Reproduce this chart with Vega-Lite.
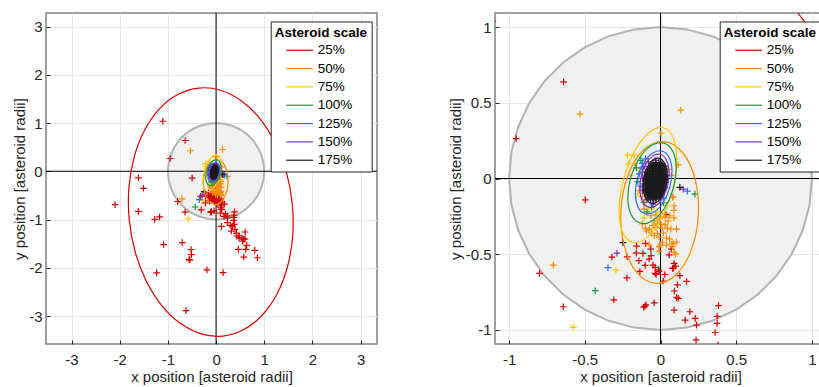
{
"$schema":"https://vega.github.io/schema/vega-lite/v6.json",
"background":"white",
"padding":{"left":11,"top":11,"right":0,"bottom":0},
"config":{
 "font":"Liberation Sans",
 "view":{"stroke":"#808080","strokeWidth":1.5},
 "axis":{"grid":true,"gridColor":"#e6e6e6","gridWidth":1,"domain":false,"tickSize":-4,"tickColor":"#262626","tickWidth":1,"labelFontSize":15,"labelColor":"#262626","labelFont":"Liberation Sans","titleFont":"Liberation Sans","titleFontSize":15,"titleFontWeight":"normal","titleColor":"#262626","labelFlush":false},
 "axisX":{"labelPadding":12,"titlePadding":2},
 "axisY":{"labelPadding":8,"titlePadding":1.5}
},
"datasets":{
 "ring":[{"t":0,"x":1,"y":0},{"t":10,"x":0.9848,"y":0.1736},{"t":20,"x":0.9397,"y":0.342},{"t":30,"x":0.866,"y":0.5},{"t":40,"x":0.766,"y":0.6428},{"t":50,"x":0.6428,"y":0.766},{"t":60,"x":0.5,"y":0.866},{"t":70,"x":0.342,"y":0.9397},{"t":80,"x":0.1736,"y":0.9848},{"t":90,"x":0,"y":1},{"t":100,"x":-0.1736,"y":0.9848},{"t":110,"x":-0.342,"y":0.9397},{"t":120,"x":-0.5,"y":0.866},{"t":130,"x":-0.6428,"y":0.766},{"t":140,"x":-0.766,"y":0.6428},{"t":150,"x":-0.866,"y":0.5},{"t":160,"x":-0.9397,"y":0.342},{"t":170,"x":-0.9848,"y":0.1736},{"t":180,"x":-1,"y":0},{"t":190,"x":-0.9848,"y":-0.1736},{"t":200,"x":-0.9397,"y":-0.342},{"t":210,"x":-0.866,"y":-0.5},{"t":220,"x":-0.766,"y":-0.6428},{"t":230,"x":-0.6428,"y":-0.766},{"t":240,"x":-0.5,"y":-0.866},{"t":250,"x":-0.342,"y":-0.9397},{"t":260,"x":-0.1736,"y":-0.9848},{"t":270,"x":0,"y":-1},{"t":280,"x":0.1736,"y":-0.9848},{"t":290,"x":0.342,"y":-0.9397},{"t":300,"x":0.5,"y":-0.866},{"t":310,"x":0.6428,"y":-0.766},{"t":320,"x":0.766,"y":-0.6428},{"t":330,"x":0.866,"y":-0.5},{"t":340,"x":0.9397,"y":-0.342},{"t":350,"x":0.9848,"y":-0.1736}],
 "cross":[{"x":0,"y":0}],
 "ell":[
{"s":"25%","t":0,"x":-0.357,"y":1.725},{"s":"25%","t":15,"x":0.089,"y":1.68},{"s":"25%","t":30,"x":0.522,"y":1.462},{"s":"25%","t":45,"x":0.912,"y":1.088},{"s":"25%","t":60,"x":1.232,"y":0.581},{"s":"25%","t":75,"x":1.461,"y":-0.023},{"s":"25%","t":90,"x":1.582,"y":-0.682},{"s":"25%","t":105,"x":1.589,"y":-1.353},{"s":"25%","t":120,"x":1.479,"y":-1.989},{"s":"25%","t":135,"x":1.262,"y":-2.547},{"s":"25%","t":150,"x":0.95,"y":-2.989},{"s":"25%","t":165,"x":0.567,"y":-3.285},{"s":"25%","t":180,"x":0.137,"y":-3.415},{"s":"25%","t":195,"x":-0.309,"y":-3.37},{"s":"25%","t":210,"x":-0.742,"y":-3.152},{"s":"25%","t":225,"x":-1.132,"y":-2.778},{"s":"25%","t":240,"x":-1.452,"y":-2.271},{"s":"25%","t":255,"x":-1.681,"y":-1.668},{"s":"25%","t":270,"x":-1.802,"y":-1.008},{"s":"25%","t":285,"x":-1.809,"y":-0.337},{"s":"25%","t":300,"x":-1.699,"y":0.299},{"s":"25%","t":315,"x":-1.482,"y":0.857},{"s":"25%","t":330,"x":-1.17,"y":1.299},{"s":"25%","t":345,"x":-0.787,"y":1.595},
{"s":"50%","t":0,"x":0.019,"y":0.244},{"s":"50%","t":30,"x":0.143,"y":0.175},{"s":"50%","t":60,"x":0.228,"y":-0.002},{"s":"50%","t":90,"x":0.25,"y":-0.238},{"s":"50%","t":120,"x":0.204,"y":-0.47},{"s":"50%","t":150,"x":0.101,"y":-0.637},{"s":"50%","t":180,"x":-0.03,"y":-0.693},{"s":"50%","t":210,"x":-0.154,"y":-0.624},{"s":"50%","t":240,"x":-0.239,"y":-0.447},{"s":"50%","t":270,"x":-0.261,"y":-0.211},{"s":"50%","t":300,"x":-0.215,"y":0.021},{"s":"50%","t":330,"x":-0.112,"y":0.188},
{"s":"75%","t":0,"x":0.021,"y":0.335},{"s":"75%","t":30,"x":0.087,"y":0.262},{"s":"75%","t":60,"x":0.107,"y":0.108},{"s":"75%","t":90,"x":0.076,"y":-0.087},{"s":"75%","t":120,"x":0.003,"y":-0.27},{"s":"75%","t":150,"x":-0.094,"y":-0.392},{"s":"75%","t":180,"x":-0.187,"y":-0.421},{"s":"75%","t":210,"x":-0.253,"y":-0.348},{"s":"75%","t":240,"x":-0.273,"y":-0.194},{"s":"75%","t":270,"x":-0.242,"y":0.001},{"s":"75%","t":300,"x":-0.169,"y":0.184},{"s":"75%","t":330,"x":-0.072,"y":0.306},
{"s":"100%","t":0,"x":0.023,"y":0.234},{"s":"100%","t":30,"x":0.082,"y":0.178},{"s":"100%","t":60,"x":0.104,"y":0.066},{"s":"100%","t":90,"x":0.083,"y":-0.072},{"s":"100%","t":120,"x":0.025,"y":-0.198},{"s":"100%","t":150,"x":-0.055,"y":-0.28},{"s":"100%","t":180,"x":-0.135,"y":-0.294},{"s":"100%","t":210,"x":-0.194,"y":-0.238},{"s":"100%","t":240,"x":-0.216,"y":-0.126},{"s":"100%","t":270,"x":-0.195,"y":0.012},{"s":"100%","t":300,"x":-0.137,"y":0.138},{"s":"100%","t":330,"x":-0.058,"y":0.22},
{"s":"125%","t":0,"x":0.011,"y":0.181},{"s":"125%","t":30,"x":0.057,"y":0.139},{"s":"125%","t":60,"x":0.076,"y":0.052},{"s":"125%","t":90,"x":0.062,"y":-0.055},{"s":"125%","t":120,"x":0.02,"y":-0.155},{"s":"125%","t":150,"x":-0.04,"y":-0.22},{"s":"125%","t":180,"x":-0.101,"y":-0.233},{"s":"125%","t":210,"x":-0.147,"y":-0.191},{"s":"125%","t":240,"x":-0.166,"y":-0.104},{"s":"125%","t":270,"x":-0.152,"y":0.003},{"s":"125%","t":300,"x":-0.11,"y":0.103},{"s":"125%","t":330,"x":-0.05,"y":0.168},
{"s":"150%","t":0,"x":-0.005,"y":0.16},{"s":"150%","t":30,"x":0.036,"y":0.128},{"s":"150%","t":60,"x":0.056,"y":0.057},{"s":"150%","t":90,"x":0.05,"y":-0.033},{"s":"150%","t":120,"x":0.021,"y":-0.118},{"s":"150%","t":150,"x":-0.025,"y":-0.176},{"s":"150%","t":180,"x":-0.075,"y":-0.19},{"s":"150%","t":210,"x":-0.116,"y":-0.158},{"s":"150%","t":240,"x":-0.136,"y":-0.087},{"s":"150%","t":270,"x":-0.13,"y":0.003},{"s":"150%","t":300,"x":-0.101,"y":0.088},{"s":"150%","t":330,"x":-0.055,"y":0.146},
{"s":"175%","t":0,"x":-0.012,"y":0.134},{"s":"175%","t":30,"x":0.023,"y":0.108},{"s":"175%","t":60,"x":0.043,"y":0.049},{"s":"175%","t":90,"x":0.042,"y":-0.027},{"s":"175%","t":120,"x":0.02,"y":-0.1},{"s":"175%","t":150,"x":-0.016,"y":-0.151},{"s":"175%","t":180,"x":-0.058,"y":-0.165},{"s":"175%","t":210,"x":-0.093,"y":-0.139},{"s":"175%","t":240,"x":-0.113,"y":-0.08},{"s":"175%","t":270,"x":-0.112,"y":-0.004},{"s":"175%","t":300,"x":-0.09,"y":0.069},{"s":"175%","t":330,"x":-0.054,"y":0.12}
 ],
 "pts":[
{"s":"25%","x":-0.64,"y":0.638},{"s":"25%","x":-0.953,"y":0.264},{"s":"25%","x":-0.497,"y":-0.141},{"s":"25%","x":-0.799,"y":-0.627},{"s":"25%","x":-0.642,"y":-0.847},{"s":"25%","x":-0.308,"y":-0.801},{"s":"25%","x":-0.222,"y":-0.656},{"s":"25%","x":-0.22,"y":-0.517},{"s":"25%","x":-0.321,"y":-0.519},{"s":"25%","x":-0.103,"y":-0.843},{"s":"25%","x":-0.096,"y":-0.835},{"s":"25%","x":-0.11,"y":-0.85},{"s":"25%","x":-0.042,"y":-0.821},{"s":"25%","x":-0.158,"y":-0.446},{"s":"25%","x":-0.099,"y":-0.429},{"s":"25%","x":-0.16,"y":-0.493},{"s":"25%","x":-0.116,"y":-0.495},{"s":"25%","x":-0.143,"y":-0.543},{"s":"25%","x":-0.101,"y":-0.574},{"s":"25%","x":-0.05,"y":-0.572},{"s":"25%","x":-0.035,"y":-0.587},{"s":"25%","x":-0.062,"y":-0.51},{"s":"25%","x":-0.136,"y":-0.614},{"s":"25%","x":-0.013,"y":-0.603},{"s":"25%","x":-0.029,"y":-0.634},{"s":"25%","x":0.029,"y":-0.634},{"s":"25%","x":0.018,"y":-0.677},{"s":"25%","x":0.09,"y":-0.869},{"s":"25%","x":0.09,"y":-0.561},{"s":"25%","x":0.099,"y":-0.579},{"s":"25%","x":0.086,"y":-0.592},{"s":"25%","x":0.057,"y":-0.504},{"s":"25%","x":0.071,"y":-0.466},{"s":"25%","x":0.112,"y":-0.702},{"s":"25%","x":0.092,"y":-0.743},{"s":"25%","x":0.106,"y":-0.785},{"s":"25%","x":0.117,"y":-0.792},{"s":"25%","x":0.172,"y":-0.68},{"s":"25%","x":0.163,"y":-0.935},{"s":"25%","x":0.128,"y":-0.642},{"s":"25%","x":0.194,"y":-0.88},{"s":"25%","x":0.229,"y":-0.924},{"s":"25%","x":0.238,"y":-0.968},{"s":"25%","x":0.383,"y":-0.84},{"s":"25%","x":0.374,"y":-0.91},{"s":"25%","x":0.374,"y":-0.957},{"s":"25%","x":0.361,"y":-1.017},{"s":"25%","x":-0.075,"y":-0.532},{"s":"25%","x":-0.035,"y":-0.627},{"s":"25%","x":-0.009,"y":-0.614},{"s":"25%","x":0.079,"y":-0.594},{"s":"25%","x":0.036,"y":-0.238},{"s":"25%","x":-0.064,"y":-0.466},
{"s":"25%","x":-1.107,"y":1.037},{"s":"25%","x":-1.612,"y":-0.135},{"s":"25%","x":-1.508,"y":-0.353},{"s":"25%","x":-2.095,"y":-0.692},{"s":"25%","x":-1.615,"y":-0.83},{"s":"25%","x":-1.272,"y":-0.996},{"s":"25%","x":-1.172,"y":-0.947},{"s":"25%","x":-0.702,"y":-1.477},{"s":"25%","x":-1.089,"y":-1.519},{"s":"25%","x":-0.519,"y":-1.622},{"s":"25%","x":-0.512,"y":-1.726},{"s":"25%","x":-0.56,"y":-1.836},{"s":"25%","x":-0.545,"y":-1.83},{"s":"25%","x":-1.235,"y":-2.106},{"s":"25%","x":-0.19,"y":-2.044},{"s":"25%","x":0.145,"y":-2.1},{"s":"25%","x":-0.625,"y":-2.888},{"s":"25%","x":0.111,"y":-1.141},{"s":"25%","x":0.235,"y":-1.066},{"s":"25%","x":0.339,"y":-1.141},{"s":"25%","x":0.394,"y":-1.204},{"s":"25%","x":0.318,"y":-1.239},{"s":"25%","x":0.422,"y":-1.287},{"s":"25%","x":0.477,"y":-1.336},{"s":"25%","x":0.533,"y":-1.377},{"s":"25%","x":0.602,"y":-1.259},{"s":"25%","x":0.567,"y":-1.411},{"s":"25%","x":0.636,"y":-1.536},{"s":"25%","x":0.463,"y":-1.618},{"s":"25%","x":0.616,"y":-1.618},{"s":"25%","x":0.802,"y":-1.639},{"s":"25%","x":0.574,"y":-1.778},{"s":"25%","x":0.858,"y":-1.792},{"s":"25%","x":0.429,"y":-1.342},{"s":"25%","x":0.477,"y":-1.38},{"s":"25%","x":0.38,"y":-1.1},{"s":"25%","x":0.3,"y":-1.12},{"s":"25%","x":0.55,"y":-1.45},{"s":"25%","x":0.6,"y":-1.4},
{"s":"50%","x":-0.532,"y":0.425},{"s":"50%","x":0.134,"y":0.451},{"s":"50%","x":-0.708,"y":-0.572},{"s":"50%","x":0.003,"y":0.299},{"s":"50%","x":0.117,"y":0.09},{"s":"50%","x":0.084,"y":-0.121},{"s":"50%","x":0.09,"y":-0.18},{"s":"50%","x":0.088,"y":-0.21},{"s":"50%","x":0.079,"y":-0.125},{"s":"50%","x":0.062,"y":-0.246},{"s":"50%","x":0.031,"y":-0.257},{"s":"50%","x":-0.009,"y":-0.268},{"s":"50%","x":-0.042,"y":-0.279},{"s":"50%","x":-0.075,"y":-0.334},{"s":"50%","x":-0.03,"y":-0.323},{"s":"50%","x":0.003,"y":-0.301},{"s":"50%","x":0.031,"y":-0.306},{"s":"50%","x":0.069,"y":-0.334},{"s":"50%","x":0.106,"y":-0.334},{"s":"50%","x":-0.02,"y":-0.363},{"s":"50%","x":-0.009,"y":-0.389},{"s":"50%","x":-0.042,"y":-0.378},{"s":"50%","x":0.04,"y":-0.394},{"s":"50%","x":0.013,"y":-0.422},{"s":"50%","x":-0.009,"y":-0.451},{"s":"50%","x":0.084,"y":-0.429},{"s":"50%","x":0.09,"y":-0.488},{"s":"50%","x":-0.108,"y":-0.202},{"s":"50%","x":-0.064,"y":-0.246},{"s":"50%","x":-0.092,"y":-0.345},{"s":"50%","x":-0.075,"y":-0.438},{"s":"50%","x":-0.003,"y":-0.44},{"s":"50%","x":0.02,"y":-0.36},{"s":"50%","x":0.05,"y":-0.28},{"s":"50%","x":-0.02,"y":-0.3},{"s":"50%","x":0.01,"y":-0.33},{"s":"50%","x":0.045,"y":-0.33},{"s":"50%","x":-0.05,"y":-0.31},{"s":"50%","x":0.075,"y":-0.43},{"s":"50%","x":0.08,"y":-0.45},{"s":"50%","x":0.06,"y":-0.4},{"s":"50%","x":-0.1,"y":-0.33},{"s":"50%","x":-0.12,"y":-0.3},{"s":"50%","x":-0.06,"y":-0.36},{"s":"50%","x":0,"y":-0.25},{"s":"50%","x":0.03,"y":-0.23},{"s":"50%","x":-0.03,"y":-0.24},{"s":"50%","x":0.09,"y":-0.26},{"s":"50%","x":0.04,"y":-0.44},{"s":"50%","x":-0.01,"y":-0.48},{"s":"50%","x":0.1,"y":-0.5},{"s":"50%","x":0.105,"y":-0.42},{"s":"50%","x":-0.14,"y":-0.08},{"s":"50%","x":-0.12,"y":-0.12},{"s":"50%","x":0.05,"y":0.06},{"s":"50%","x":0.07,"y":0.02},
{"s":"75%","x":-0.576,"y":-0.983},{"s":"75%","x":-0.294,"y":-0.605},{"s":"75%","x":-0.218,"y":0.154},{"s":"75%","x":-0.174,"y":0.156},{"s":"75%","x":-0.213,"y":0.095},{"s":"75%","x":-0.196,"y":0.018},{"s":"75%","x":-0.108,"y":-0.261},{"s":"75%","x":-0.12,"y":-0.05},{"s":"75%","x":-0.1,"y":-0.15},{"s":"75%","x":-0.06,"y":-0.2},{"s":"75%","x":-0.14,"y":0.05},{"s":"75%","x":-0.02,"y":-0.22},{"s":"75%","x":-0.17,"y":0.1},{"s":"75%","x":-0.15,"y":-0.1},{"s":"75%","x":0.04,"y":-0.18},{"s":"75%","x":-0.085,"y":-0.23},
{"s":"100%","x":-0.431,"y":-0.741},{"s":"100%","x":0.227,"y":-0.103},{"s":"100%","x":-0.13,"y":0.12},{"s":"100%","x":-0.16,"y":0.07},{"s":"100%","x":-0.11,"y":-0.16},{"s":"100%","x":-0.06,"y":-0.19},{"s":"100%","x":-0.15,"y":-0.02},{"s":"100%","x":-0.12,"y":0.04},{"s":"100%","x":-0.09,"y":-0.22},{"s":"100%","x":0.02,"y":-0.16},
{"s":"125%","x":-0.347,"y":-0.589},{"s":"125%","x":0.178,"y":-0.083},{"s":"125%","x":-0.12,"y":0.1},{"s":"125%","x":-0.14,"y":0.03},{"s":"125%","x":-0.08,"y":-0.13},{"s":"125%","x":-0.12,"y":0.07},{"s":"125%","x":-0.13,"y":-0.05},{"s":"125%","x":-0.05,"y":-0.17},{"s":"125%","x":0.02,"y":-0.13},{"s":"125%","x":-0.1,"y":0.13},{"s":"125%","x":0.03,"y":0.08},
{"s":"150%","x":-0.288,"y":-0.493},{"s":"150%","x":0.15,"y":-0.07},{"s":"150%","x":-0.11,"y":0.08},{"s":"150%","x":-0.12,"y":0},{"s":"150%","x":-0.12,"y":-0.08},{"s":"150%","x":-0.09,"y":-0.14},{"s":"150%","x":-0.05,"y":-0.16},{"s":"150%","x":0,"y":-0.12},{"s":"150%","x":0.03,"y":-0.06},{"s":"150%","x":0.04,"y":0.02},{"s":"150%","x":0.02,"y":0.08},{"s":"150%","x":-0.03,"y":0.12},{"s":"150%","x":-0.08,"y":0.11},{"s":"150%","x":-0.1,"y":0.04},{"s":"150%","x":-0.1,"y":-0.04},{"s":"150%","x":-0.07,"y":-0.11},{"s":"150%","x":0.01,"y":0.04},{"s":"150%","x":0,"y":-0.08},{"s":"150%","x":-0.03,"y":-0.13},
{"s":"175%","x":-0.248,"y":-0.424},{"s":"175%","x":0.128,"y":-0.059},
{"s":"175%","x":-0.032,"y":0.1045},{"s":"175%","x":-0.012,"y":0.1045},
{"s":"175%","x":-0.05,"y":0.0945},{"s":"175%","x":-0.03,"y":0.0945},{"s":"175%","x":-0.01,"y":0.0945},{"s":"175%","x":0.01,"y":0.0945},
{"s":"175%","x":-0.06,"y":0.0845},{"s":"175%","x":-0.04,"y":0.0845},{"s":"175%","x":-0.02,"y":0.0845},{"s":"175%","x":0,"y":0.0845},{"s":"175%","x":0.015,"y":0.0845},
{"s":"175%","x":-0.065,"y":0.0745},{"s":"175%","x":-0.045,"y":0.0745},{"s":"175%","x":-0.025,"y":0.0745},{"s":"175%","x":-0.005,"y":0.0745},{"s":"175%","x":0.015,"y":0.0745},
{"s":"175%","x":-0.075,"y":0.0645},{"s":"175%","x":-0.055,"y":0.0645},{"s":"175%","x":-0.035,"y":0.0645},{"s":"175%","x":-0.015,"y":0.0645},{"s":"175%","x":0.005,"y":0.0645},{"s":"175%","x":0.025,"y":0.0645},
{"s":"175%","x":-0.075,"y":0.0545},{"s":"175%","x":-0.055,"y":0.0545},{"s":"175%","x":-0.035,"y":0.0545},{"s":"175%","x":-0.015,"y":0.0545},{"s":"175%","x":0.005,"y":0.0545},{"s":"175%","x":0.025,"y":0.0545},
{"s":"175%","x":-0.085,"y":0.0445},{"s":"175%","x":-0.065,"y":0.0445},{"s":"175%","x":-0.045,"y":0.0445},{"s":"175%","x":-0.025,"y":0.0445},{"s":"175%","x":-0.005,"y":0.0445},{"s":"175%","x":0.015,"y":0.0445},{"s":"175%","x":0.03,"y":0.0445},
{"s":"175%","x":-0.085,"y":0.0345},{"s":"175%","x":-0.065,"y":0.0345},{"s":"175%","x":-0.045,"y":0.0345},{"s":"175%","x":-0.025,"y":0.0345},{"s":"175%","x":-0.005,"y":0.0345},{"s":"175%","x":0.015,"y":0.0345},
{"s":"175%","x":-0.09,"y":0.0245},{"s":"175%","x":-0.07,"y":0.0245},{"s":"175%","x":-0.05,"y":0.0245},{"s":"175%","x":-0.03,"y":0.0245},{"s":"175%","x":-0.01,"y":0.0245},{"s":"175%","x":0.01,"y":0.0245},{"s":"175%","x":0.03,"y":0.0245},
{"s":"175%","x":-0.09,"y":0.0145},{"s":"175%","x":-0.07,"y":0.0145},{"s":"175%","x":-0.05,"y":0.0145},{"s":"175%","x":-0.03,"y":0.0145},{"s":"175%","x":-0.01,"y":0.0145},{"s":"175%","x":0.01,"y":0.0145},{"s":"175%","x":0.03,"y":0.0145},
{"s":"175%","x":-0.095,"y":0.0045},{"s":"175%","x":-0.075,"y":0.0045},{"s":"175%","x":-0.055,"y":0.0045},{"s":"175%","x":-0.035,"y":0.0045},{"s":"175%","x":-0.015,"y":0.0045},{"s":"175%","x":0.005,"y":0.0045},{"s":"175%","x":0.025,"y":0.0045},
{"s":"175%","x":-0.09,"y":-0.0055},{"s":"175%","x":-0.07,"y":-0.0055},{"s":"175%","x":-0.05,"y":-0.0055},{"s":"175%","x":-0.03,"y":-0.0055},{"s":"175%","x":-0.01,"y":-0.0055},{"s":"175%","x":0.01,"y":-0.0055},{"s":"175%","x":0.03,"y":-0.0055},
{"s":"175%","x":-0.1,"y":-0.0155},{"s":"175%","x":-0.08,"y":-0.0155},{"s":"175%","x":-0.06,"y":-0.0155},{"s":"175%","x":-0.04,"y":-0.0155},{"s":"175%","x":-0.02,"y":-0.0155},{"s":"175%","x":0,"y":-0.0155},{"s":"175%","x":0.025,"y":-0.0155},
{"s":"175%","x":-0.09,"y":-0.0255},{"s":"175%","x":-0.07,"y":-0.0255},{"s":"175%","x":-0.05,"y":-0.0255},{"s":"175%","x":-0.03,"y":-0.0255},{"s":"175%","x":-0.01,"y":-0.0255},{"s":"175%","x":0.01,"y":-0.0255},{"s":"175%","x":0.03,"y":-0.0255},
{"s":"175%","x":-0.1,"y":-0.0355},{"s":"175%","x":-0.08,"y":-0.0355},{"s":"175%","x":-0.06,"y":-0.0355},{"s":"175%","x":-0.04,"y":-0.0355},{"s":"175%","x":-0.02,"y":-0.0355},{"s":"175%","x":0,"y":-0.0355},{"s":"175%","x":0.02,"y":-0.0355},
{"s":"175%","x":-0.09,"y":-0.0455},{"s":"175%","x":-0.07,"y":-0.0455},{"s":"175%","x":-0.05,"y":-0.0455},{"s":"175%","x":-0.03,"y":-0.0455},{"s":"175%","x":-0.01,"y":-0.0455},{"s":"175%","x":0.01,"y":-0.0455},
{"s":"175%","x":-0.1,"y":-0.0555},{"s":"175%","x":-0.08,"y":-0.0555},{"s":"175%","x":-0.06,"y":-0.0555},{"s":"175%","x":-0.04,"y":-0.0555},{"s":"175%","x":-0.02,"y":-0.0555},{"s":"175%","x":0,"y":-0.0555},{"s":"175%","x":0.02,"y":-0.0555},
{"s":"175%","x":-0.09,"y":-0.0655},{"s":"175%","x":-0.07,"y":-0.0655},{"s":"175%","x":-0.05,"y":-0.0655},{"s":"175%","x":-0.03,"y":-0.0655},{"s":"175%","x":-0.01,"y":-0.0655},{"s":"175%","x":0.01,"y":-0.0655},
{"s":"175%","x":-0.1,"y":-0.0755},{"s":"175%","x":-0.08,"y":-0.0755},{"s":"175%","x":-0.06,"y":-0.0755},{"s":"175%","x":-0.04,"y":-0.0755},{"s":"175%","x":-0.02,"y":-0.0755},{"s":"175%","x":0,"y":-0.0755},{"s":"175%","x":0.015,"y":-0.0755},
{"s":"175%","x":-0.09,"y":-0.0855},{"s":"175%","x":-0.07,"y":-0.0855},{"s":"175%","x":-0.05,"y":-0.0855},{"s":"175%","x":-0.03,"y":-0.0855},{"s":"175%","x":-0.01,"y":-0.0855},{"s":"175%","x":0.01,"y":-0.0855},
{"s":"175%","x":-0.095,"y":-0.0955},{"s":"175%","x":-0.075,"y":-0.0955},{"s":"175%","x":-0.055,"y":-0.0955},{"s":"175%","x":-0.035,"y":-0.0955},{"s":"175%","x":-0.015,"y":-0.0955},{"s":"175%","x":0.005,"y":-0.0955},
{"s":"175%","x":-0.085,"y":-0.1055},{"s":"175%","x":-0.065,"y":-0.1055},{"s":"175%","x":-0.045,"y":-0.1055},{"s":"175%","x":-0.025,"y":-0.1055},{"s":"175%","x":-0.005,"y":-0.1055},
{"s":"175%","x":-0.085,"y":-0.1155},{"s":"175%","x":-0.065,"y":-0.1155},{"s":"175%","x":-0.045,"y":-0.1155},{"s":"175%","x":-0.025,"y":-0.1155},{"s":"175%","x":-0.005,"y":-0.1155},
{"s":"175%","x":-0.075,"y":-0.1255},{"s":"175%","x":-0.055,"y":-0.1255},{"s":"175%","x":-0.035,"y":-0.1255},{"s":"175%","x":-0.015,"y":-0.1255},
{"s":"175%","x":-0.065,"y":-0.1355},{"s":"175%","x":-0.045,"y":-0.1355},{"s":"175%","x":-0.03,"y":-0.1355}
 ]
},
"spacing":118,
"bounds":"flush",
"resolve":{"scale":{"color":"independent"},"legend":{"color":"independent"}},
"hconcat":[
{
 "width":331,"height":331,
 "layer":[
  {"data":{"name":"ring"},"mark":{"type":"line","fill":"#f0f0f0","stroke":"#b3b3b3","strokeWidth":2,"interpolate":"linear-closed","clip":true},
   "encoding":{
    "x":{"field":"x","type":"quantitative","scale":{"domain":[-3.53,3.34],"nice":false,"zero":false},"axis":{"values":[-3,-2,-1,0,1,2,3],"title":"x position [asteroid radii]","labelExpr":"'' + datum.value"}},
    "y":{"field":"y","type":"quantitative","scale":{"domain":[-3.58,3.28],"nice":false,"zero":false},"axis":{"values":[-3,-2,-1,0,1,2,3],"title":"y position [asteroid radii]","labelExpr":"'' + datum.value"}},
    "order":{"field":"t","type":"quantitative"}}},
  {"data":{"name":"cross"},"mark":{"type":"rule","color":"black","strokeWidth":1},"encoding":{"x":{"field":"x","type":"quantitative","scale":{"domain":[-3.53,3.34],"nice":false,"zero":false}}}},
  {"data":{"name":"cross"},"mark":{"type":"rule","color":"black","strokeWidth":1},"encoding":{"y":{"field":"y","type":"quantitative","scale":{"domain":[-3.58,3.28],"nice":false,"zero":false}}}},
  {"data":{"name":"pts"},"mark":{"type":"point","shape":"M-1,0L1,0M0,-1L0,1","filled":false,"size":44,"strokeWidth":1.2,"opacity":1,"clip":true},
   "encoding":{
    "x":{"field":"x","type":"quantitative","scale":{"domain":[-3.53,3.34],"nice":false,"zero":false}},
    "y":{"field":"y","type":"quantitative","scale":{"domain":[-3.58,3.28],"nice":false,"zero":false}},
    "color":{"field":"s","type":"nominal","title":"Asteroid scale","scale":{"domain":["25%","50%","75%","100%","125%","150%","175%"],"range":["#d40000","#ff8c00","#ffc800","#1a9641","#2e6eff","#8b2fb8","#1a1a1a"]},
     "legend":{"title":"Asteroid scale","orient":"none","legendX":224.7,"legendY":8.5,"fillColor":"white","strokeColor":"#262626","padding":4,"cornerRadius":0,"labelFontSize":13.5,"labelColor":"black","labelFont":"Liberation Sans","labelAlign":"left","titleFont":"Liberation Sans","titleFontSize":13.5,"titleFontWeight":"bold","titleColor":"black","titlePadding":4.5,"rowPadding":3.33,"symbolType":"M0.91,0L5.91,0","symbolSize":114,"symbolStrokeWidth":1.2,"symbolOffset":0,"labelOffset":29.5}}}},
  {"data":{"name":"ell"},"mark":{"type":"line","interpolate":"cardinal-closed","strokeWidth":1.2,"clip":true},
   "encoding":{
    "x":{"field":"x","type":"quantitative","scale":{"domain":[-3.53,3.34],"nice":false,"zero":false}},
    "y":{"field":"y","type":"quantitative","scale":{"domain":[-3.58,3.28],"nice":false,"zero":false}},
    "order":{"field":"t","type":"quantitative"},
    "color":{"field":"s","type":"nominal","title":"Asteroid scale","scale":{"domain":["25%","50%","75%","100%","125%","150%","175%"],"range":["#d40000","#ff8c00","#ffc800","#1a9641","#2e6eff","#8b2fb8","#1a1a1a"]},
     "legend":{"title":"Asteroid scale","orient":"none","legendX":224.7,"legendY":8.5,"fillColor":"white","strokeColor":"#262626","padding":4,"cornerRadius":0,"labelFontSize":13.5,"labelColor":"black","labelFont":"Liberation Sans","labelAlign":"left","titleFont":"Liberation Sans","titleFontSize":13.5,"titleFontWeight":"bold","titleColor":"black","titlePadding":4.5,"rowPadding":3.33,"symbolType":"M0.91,0L5.91,0","symbolSize":114,"symbolStrokeWidth":1.2,"symbolOffset":0,"labelOffset":29.5}}}}
 ]
},
{
 "width":331,"height":331,
 "layer":[
  {"data":{"name":"ring"},"mark":{"type":"line","fill":"#f0f0f0","stroke":"#b3b3b3","strokeWidth":2,"interpolate":"linear-closed","clip":true},
   "encoding":{
    "x":{"field":"x","type":"quantitative","scale":{"domain":[-1.093,1.093],"nice":false,"zero":false},"axis":{"values":[-1,-0.5,0,0.5,1],"title":"x position [asteroid radii]","labelExpr":"'' + datum.value"}},
    "y":{"field":"y","type":"quantitative","scale":{"domain":[-1.093,1.093],"nice":false,"zero":false},"axis":{"values":[-1,-0.5,0,0.5,1],"title":"y position [asteroid radii]","labelExpr":"'' + datum.value"}},
    "order":{"field":"t","type":"quantitative"}}},
  {"data":{"name":"cross"},"mark":{"type":"rule","color":"black","strokeWidth":1},"encoding":{"x":{"field":"x","type":"quantitative","scale":{"domain":[-1.093,1.093],"nice":false,"zero":false}}}},
  {"data":{"name":"cross"},"mark":{"type":"rule","color":"black","strokeWidth":1},"encoding":{"y":{"field":"y","type":"quantitative","scale":{"domain":[-1.093,1.093],"nice":false,"zero":false}}}},
  {"data":{"name":"pts"},"mark":{"type":"point","shape":"M-1,0L1,0M0,-1L0,1","filled":false,"size":44,"strokeWidth":1.2,"opacity":1,"clip":true},
   "encoding":{
    "x":{"field":"x","type":"quantitative","scale":{"domain":[-1.093,1.093],"nice":false,"zero":false}},
    "y":{"field":"y","type":"quantitative","scale":{"domain":[-1.093,1.093],"nice":false,"zero":false}},
    "color":{"field":"s","type":"nominal","title":"Asteroid scale","scale":{"domain":["25%","50%","75%","100%","125%","150%","175%"],"range":["#d40000","#ff8c00","#ffc800","#1a9641","#2e6eff","#8b2fb8","#1a1a1a"]},
     "legend":{"title":"Asteroid scale","orient":"none","legendX":224.7,"legendY":8.5,"fillColor":"white","strokeColor":"#262626","padding":4,"cornerRadius":0,"labelFontSize":13.5,"labelColor":"black","labelFont":"Liberation Sans","labelAlign":"left","titleFont":"Liberation Sans","titleFontSize":13.5,"titleFontWeight":"bold","titleColor":"black","titlePadding":4.5,"rowPadding":3.33,"symbolType":"M0.91,0L5.91,0","symbolSize":114,"symbolStrokeWidth":1.2,"symbolOffset":0,"labelOffset":29.5}}}},
  {"data":{"name":"ell"},"mark":{"type":"line","interpolate":"cardinal-closed","strokeWidth":1.2,"clip":true},
   "encoding":{
    "x":{"field":"x","type":"quantitative","scale":{"domain":[-1.093,1.093],"nice":false,"zero":false}},
    "y":{"field":"y","type":"quantitative","scale":{"domain":[-1.093,1.093],"nice":false,"zero":false}},
    "order":{"field":"t","type":"quantitative"},
    "color":{"field":"s","type":"nominal","title":"Asteroid scale","scale":{"domain":["25%","50%","75%","100%","125%","150%","175%"],"range":["#d40000","#ff8c00","#ffc800","#1a9641","#2e6eff","#8b2fb8","#1a1a1a"]},
     "legend":{"title":"Asteroid scale","orient":"none","legendX":224.7,"legendY":8.5,"fillColor":"white","strokeColor":"#262626","padding":4,"cornerRadius":0,"labelFontSize":13.5,"labelColor":"black","labelFont":"Liberation Sans","labelAlign":"left","titleFont":"Liberation Sans","titleFontSize":13.5,"titleFontWeight":"bold","titleColor":"black","titlePadding":4.5,"rowPadding":3.33,"symbolType":"M0.91,0L5.91,0","symbolSize":114,"symbolStrokeWidth":1.2,"symbolOffset":0,"labelOffset":29.5}}}}
 ]
}
]
}
